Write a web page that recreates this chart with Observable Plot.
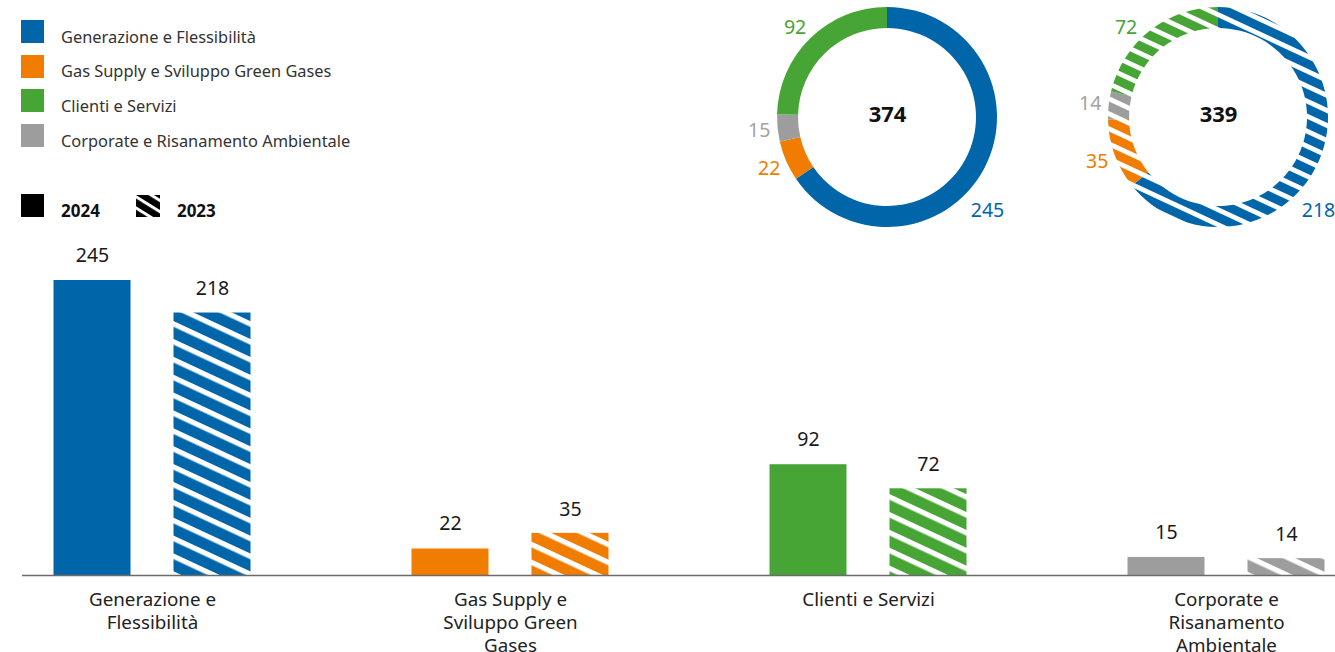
<!DOCTYPE html>
<html>
<head>
<meta charset="utf-8">
<script src="https://cdn.jsdelivr.net/npm/d3@7"></script>
<script src="https://cdn.jsdelivr.net/npm/@observablehq/plot@0.6"></script>
<style>
  html, body { margin: 0; padding: 0; background: #fff; }
  body { font-family: "Noto Sans", sans-serif; }
  #wrap { position: relative; width: 1335px; height: 652px; overflow: hidden; background: #fff; }
  #bars { position: absolute; left: 0; top: 0; }
  .donut { position: absolute; width: 300px; height: 230px; }
  .donut svg { max-width: none !important; }
  #legend { position: absolute; left: 21px; top: 20px; color: #333; font-size: 16.4px; }
  .row { display: flex; align-items: flex-end; height: 23px; margin-bottom: 11.7px; }
  .sw { width: 23px; height: 23px; flex: none; }
  .lab { margin-left: 17px; line-height: 1; position: relative; top: 2px; white-space: nowrap; }
  #years { position: absolute; left: 21px; top: 194px; display: flex; align-items: flex-end; font-weight: bold; font-size: 17px; color: #111; }
  #years .lab { margin-left: 17px; margin-right: 36px; }
</style>
</head>
<body>
<svg width="0" height="0" style="position:absolute"><defs id="defs"></defs></svg>
<div id="wrap">
  <div id="bars"></div>
  <div id="d1" class="donut"></div>
  <div id="d2" class="donut"></div>
  <div id="legend"></div>
  <div id="years"></div>
</div>
<script>
// ---------- data ----------
const categories = ["Generazione e Flessibilità", "Gas Supply e Sviluppo Green Gases", "Clienti e Servizi", "Corporate e Risanamento Ambientale"];
const tickLabels = ["Generazione e\nFlessibilità", "Gas Supply e\nSviluppo Green\nGases", "Clienti e Servizi", "Corporate e\nRisanamento\nAmbientale"];
const values2024 = [245, 22, 92, 15];
const values2023 = [218, 35, 72, 14];
const years = ["2024", "2023"];
const colors = ["#0066a9", "#f07c00", "#46a535", "#9d9d9d"];
const labelColors = ["#0066a9", "#f07c00", "#46a535", "#a3a3a3"];
const donutOrder = [0, 1, 3, 2]; // clockwise from 12 o'clock

// ---------- hatch patterns ----------
const defs = d3.select("#defs");
function hatch(id, color, period, white, angle) {
  const p = defs.append("pattern").attr("id", id)
    .attr("patternUnits", "userSpaceOnUse")
    .attr("width", 40).attr("height", period)
    .attr("patternTransform", `rotate(${angle})`);
  p.append("rect").attr("width", 40).attr("height", period).attr("fill", color);
  p.append("rect").attr("width", 40).attr("height", white).attr("fill", "#fff");
}
colors.forEach((c, i) => {
  hatch("hb" + i, c, 16.2, 5.2, 25);
  hatch("hd" + i, c, 13.6, 4.8, 25);
});
hatch("hblack", "#000", 9.5, 3, 32);

// ---------- bar chart ----------
const rows = categories.map((c, i) => ({cat: c, i, v24: values2024[i], v23: values2023[i]}));
const bars = Plot.plot({
  width: 1335, height: 652,
  marginLeft: 22, marginRight: 0, marginTop: 280, marginBottom: 77,
  style: {fontFamily: "Noto Sans, sans-serif", background: "transparent"},
  x: {domain: categories, range: [-27.5, 1404.5], padding: 0, axis: null},
  y: {domain: [0, 245], axis: null},
  color: {type: "identity"},
  marks: [
    Plot.barY(rows, {x: "cat", y: "v24", fill: d => colors[d.i], dx: -60, insetLeft: 140.5, insetRight: 140.5}),
    Plot.barY(rows, {x: "cat", y: "v23", fill: d => `url(#hb${d.i})`, dx: 60, insetLeft: 140.5, insetRight: 140.5}),
    Plot.ruleY([0], {stroke: "#6b6b6b", strokeWidth: 1.3}),
    Plot.text(rows, {x: "cat", y: "v24", text: d => String(d.v24), dx: -60, dy: -25, fontSize: 19.5, fill: "#1a1a1a"}),
    Plot.text(rows, {x: "cat", y: "v23", text: d => String(d.v23), dx: 60, dy: -24, fontSize: 19.5, fill: "#1a1a1a"}),
    Plot.text(rows, {x: "cat", y: () => 0, text: d => tickLabels[d.i], dy: 13.5, lineAnchor: "top", lineHeight: 1.24, fontSize: 18.8, fill: "#222"})
  ]
});
document.getElementById("bars").appendChild(bars);

// ---------- donuts ----------
function donut(values, fillFor, W, H) {
  const total = d3.sum(values);
  const data = donutOrder.map(i => ({i, v: values[i]}));
  const pie = d3.pie().value(d => d.v).sort(null)(data);
  const outerR = 110, innerR = 89, labelR = 129, maxUp = 90, maxRight = 100;
  const labels = pie.map(p => {
    const a = (p.startAngle + p.endAngle) / 2;
    let x = labelR * Math.sin(a), y = -labelR * Math.cos(a);
    // keep labels inside the frame: slide along the label circle
    if (y < -maxUp) { y = -maxUp; x = Math.sign(x) * Math.sqrt(labelR * labelR - y * y); }
    if (x > maxRight) { const r2 = labelR + 8; x = maxRight; y = Math.sign(y) * Math.sqrt(r2 * r2 - x * x); }
    return {i: p.data.i, v: p.data.v, x, y};
  });
  return Plot.plot({
    width: W, height: H, margin: 0,
    style: {fontFamily: "Noto Sans, sans-serif", background: "transparent", overflow: "visible", maxWidth: "none"},
    x: {domain: [-W / 2, W / 2], range: [0, W], axis: null},
    y: {domain: [-H / 2, H / 2], range: [0, H], axis: null},
    color: {type: "identity"},
    marks: [
      (index, scales) => {
        const g = d3.create("svg:g")
          .attr("transform", `translate(${scales.x(0)},${scales.y(0)})`);
        const arc = d3.arc().innerRadius(innerR).outerRadius(outerR);
        g.selectAll("path").data(pie).join("path")
          .attr("d", arc)
          .attr("fill", p => fillFor(p.data.i));
        return g.node();
      },
      Plot.text(labels, {x: "x", y: "y", text: d => String(d.v), fill: d => labelColors[d.i], fontSize: 19.5}),
      Plot.text([total], {x: () => 0, y: () => 0, dy: -2.5, text: d => String(d), fontSize: 22, fontWeight: "bold", fill: "#111"})
    ]
  });
}
const d1 = document.getElementById("d1");
d1.style.left = "737px"; d1.style.top = "2px";
d1.appendChild(donut(values2024, i => colors[i], 300, 230));
const d2 = document.getElementById("d2");
d2.style.left = "1068px"; d2.style.top = "2px";
d2.appendChild(donut(values2023, i => `url(#hd${i})`, 300, 230));

// ---------- legends ----------
const legend = d3.select("#legend");
categories.forEach((c, i) => {
  const r = legend.append("div").attr("class", "row");
  r.append("div").attr("class", "sw").style("background", colors[i]);
  r.append("span").attr("class", "lab").text(c);
});
const yl = d3.select("#years");
years.forEach((y, k) => {
  const sw = yl.append("div").attr("class", "sw");
  if (k === 0) sw.style("background", "#000");
  else sw.style("width", "24px").style("height", "22px")
    .html('<svg width="24" height="22" style="display:block"><rect width="24" height="22" fill="url(#hblack)"/></svg>');
  yl.append("span").attr("class", "lab").text(y);
});
</script>
</body>
</html>
